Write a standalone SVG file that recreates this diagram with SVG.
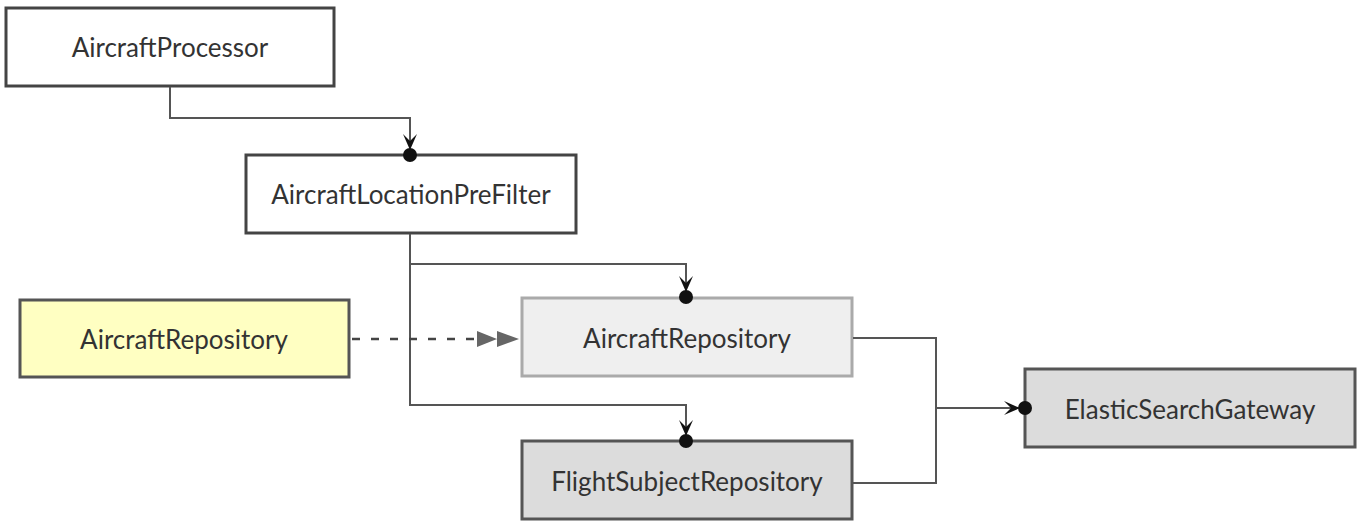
<svg xmlns="http://www.w3.org/2000/svg" width="1364" height="521" viewBox="0 0 1364 521">
<defs>
<style>
.box{stroke-width:3}
.lbl{font-family:Lato,"Open Sans",sans-serif;font-size:26px;fill:#333;text-anchor:middle;dominant-baseline:central}
.wire{fill:none;stroke:#555;stroke-width:2}
.dash{fill:none;stroke:#444;stroke-width:2.5;stroke-dasharray:8,11}
</style>
<g id="hd">
<path d="M0,-5 L-7,-21 L0,-14 L7,-21 Z" fill="#111"/>
<circle cx="0" cy="0" r="7" fill="#111"/>
</g>
</defs>
<rect width="1364" height="521" fill="#fff"/>
<g id="n1"><rect class="box" x="6" y="8" width="328" height="78" fill="#fff" stroke="#444"/><text class="lbl" x="170" y="47">AircraftProcessor</text></g>
<g id="n2"><rect class="box" x="246" y="155" width="330" height="78" fill="#fff" stroke="#444"/><text class="lbl" x="411" y="194">AircraftLocationPreFilter</text></g>
<g id="n3"><rect class="box" x="20" y="300" width="329" height="77" fill="#ffffc2" stroke="#555"/><text class="lbl" x="184" y="339">AircraftRepository</text></g>
<g id="n4"><rect class="box" x="522" y="298" width="330" height="78" fill="#efefef" stroke="#aaa"/><text class="lbl" x="687" y="338">AircraftRepository</text></g>
<g id="n5"><rect class="box" x="522" y="441" width="330" height="78" fill="#dcdcdc" stroke="#555"/><text class="lbl" x="687" y="481">FlightSubjectRepository</text></g>
<g id="n6"><rect class="box" x="1025" y="369" width="330" height="78" fill="#dcdcdc" stroke="#555"/><text class="lbl" x="1190" y="409">ElasticSearchGateway</text></g>
<g id="connectors">
<path class="wire" d="M170,87 V118 H410 V145"/>
<use href="#hd" transform="translate(410,155)"/>
<path class="wire" d="M410,234 V405 H686 V432"/>
<path class="wire" d="M410,264 H686 V288"/>
<use href="#hd" transform="translate(686,297)"/>
<use href="#hd" transform="translate(686,441)"/>
<path class="wire" d="M853,338 H936 V483 H853"/>
<path class="wire" d="M936,408 H1016"/>
<use href="#hd" transform="translate(1025,408) rotate(-90)"/>
<path class="dash" d="M352,339 H474"/>
<path d="M477,331 L497,339 L477,347 Z M497,331 L519,339 L497,347 Z" fill="#666"/>
</g>
</svg>
